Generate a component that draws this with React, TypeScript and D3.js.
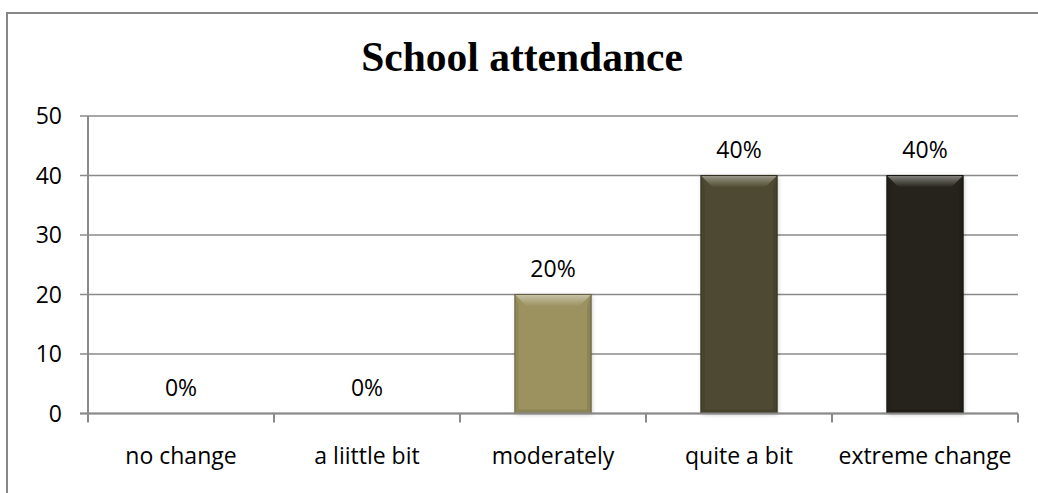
import React from "react";
import * as d3 from "d3";

const categories = ["no change", "a liittle bit", "moderately", "quite a bit", "extreme change"];
const values = [0, 0, 20, 40, 40];
const valueLabels = ["0%", "0%", "20%", "40%", "40%"];
const yTicks = [0, 10, 20, 30, 40, 50];
const barColors = ["#9b9260", "#9b9260", "#9b9260", "#4e4a30", "#25231a"];

const W = 1038;
const H = 493;
const plot = { left: 88, right: 1018, top: 116, bottom: 413.5 };
const labelFont = "'Open Sans', 'Noto Sans', sans-serif";
const labelSize = 23;

export default function App() {
  const x = d3
    .scaleBand<string>()
    .domain(categories)
    .range([plot.left, plot.right])
    .paddingInner(0.59)
    .paddingOuter(0.295);
  const y = d3.scaleLinear().domain([0, 50]).range([plot.bottom, plot.top]);
  const step = x.step();
  const tickXs = d3.range(categories.length + 1).map((i) => plot.left + i * step);

  return (
    <svg
      width={W}
      height={H}
      style={{ position: "absolute", left: 0, top: 0, background: "#fff" }}
    >
      <defs>
        <filter id="barShadow" x="-20%" y="-10%" width="140%" height="130%">
          <feDropShadow dx="1" dy="1" stdDeviation="2" floodColor="#000" floodOpacity="0.22" />
        </filter>
        {barColors.map((col, i) => (
          <linearGradient key={i} id={`bevelTop${i}`} x1="0" y1="0" x2="0" y2="1">
            <stop offset="0" stopColor={d3.interpolateRgb(col, "#ffffff")(0.45)} />
            <stop offset="0.3" stopColor={d3.interpolateRgb(col, "#ffffff")(0.3)} />
            <stop offset="1" stopColor={col} />
          </linearGradient>
        ))}
      </defs>

      {/* chart frame */}
      <rect x={7} y={13} width={W + 20} height={H + 20} fill="none" stroke="#878787" strokeWidth={2} />

      {/* title */}
      <text
        x={522}
        y={71}
        textAnchor="middle"
        fontFamily="'Liberation Serif', 'Times New Roman', serif"
        fontWeight="bold"
        fontSize={41.5}
        fill="#000"
      >
        School attendance
      </text>

      {/* horizontal gridlines and y ticks */}
      {yTicks.map((t) => (
        <g key={t}>
          <line x1={plot.left - 8} x2={plot.right} y1={y(t)} y2={y(t)} stroke="#8a8a8a" strokeWidth={1.5} />
          <text
            x={62}
            y={y(t)}
            dy="0.35em"
            textAnchor="end"
            fontFamily={labelFont}
            fontSize={labelSize}
            fill="#000"
          >
            {t}
          </text>
        </g>
      ))}

      {/* y axis */}
      <line x1={plot.left} x2={plot.left} y1={plot.top} y2={plot.bottom + 8} stroke="#8a8a8a" strokeWidth={2} />

      {/* category ticks */}
      {tickXs.map((tx, i) => (
        <line key={i} x1={tx} x2={tx} y1={plot.bottom} y2={plot.bottom + 9} stroke="#8a8a8a" strokeWidth={2} />
      ))}

      {/* bars with bevel */}
      {categories.map((c, i) => {
        const v = values[i];
        if (v <= 0) return null;
        const x0 = x(c)!;
        const x1 = x0 + x.bandwidth();
        const y0 = y(v);
        const y1 = y(0);
        const base = d3.color(barColors[i])!;
        const dark = base.darker(0.7).formatHex();
        const bt = 12;
        const bs = 4;
        return (
          <g key={c}>
            <rect x={x0} y={y0} width={x1 - x0} height={y1 - y0} fill={barColors[i]} filter="url(#barShadow)" />
            <polygon
              points={`${x0},${y0} ${x1},${y0} ${x1 - bt},${y0 + bt} ${x0 + bt},${y0 + bt}`}
              fill={`url(#bevelTop${i})`}
            />
            <polygon
              points={`${x0},${y0} ${x0 + bs},${y0 + bt} ${x0 + bs},${y1 - bs} ${x0},${y1}`}
              fill={dark}
              opacity={0.3}
            />
            <polygon
              points={`${x1},${y0} ${x1 - bs},${y0 + bt} ${x1 - bs},${y1 - bs} ${x1},${y1}`}
              fill={dark}
              opacity={0.45}
            />
            <polygon
              points={`${x0},${y1} ${x1},${y1} ${x1 - bs},${y1 - bs} ${x0 + bs},${y1 - bs}`}
              fill={dark}
              opacity={0.45}
            />
            <rect x={x0} y={y0} width={x1 - x0} height={y1 - y0} fill="none" stroke={base.darker(1.2).formatHex()} strokeWidth={1} />
          </g>
        );
      })}

      {/* x axis baseline */}
      <line x1={plot.left - 8} x2={plot.right} y1={plot.bottom} y2={plot.bottom} stroke="#8a8a8a" strokeWidth={2} />

      {/* value labels */}
      {categories.map((c, i) => (
        <text
          key={c}
          x={x(c)! + x.bandwidth() / 2}
          y={y(values[i]) - 18}
          textAnchor="middle"
          fontFamily={labelFont}
          fontSize={labelSize}
          fill="#000"
        >
          {valueLabels[i]}
        </text>
      ))}

      {/* category labels */}
      {categories.map((c) => (
        <text
          key={c}
          x={x(c)! + x.bandwidth() / 2}
          y={464}
          textAnchor="middle"
          fontFamily={labelFont}
          fontSize={labelSize}
          fill="#000"
        >
          {c}
        </text>
      ))}
    </svg>
  );
}
